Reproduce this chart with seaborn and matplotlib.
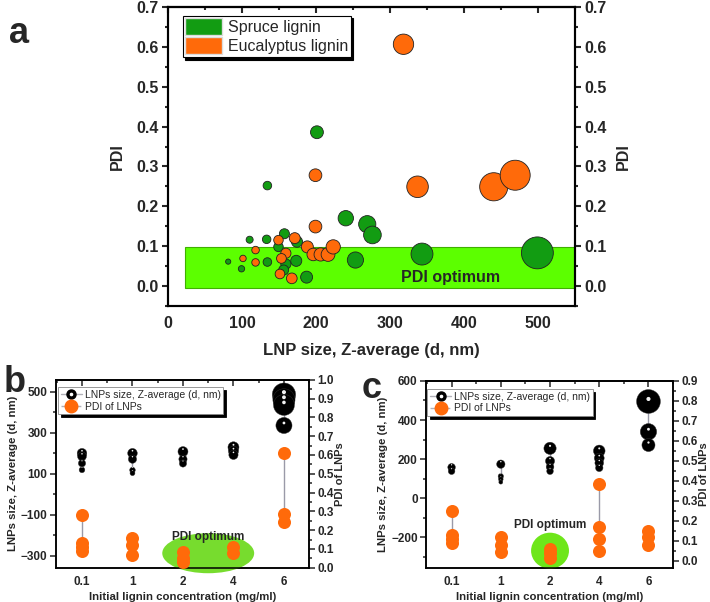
import pandas as pd
import matplotlib
matplotlib.use("Agg")
import matplotlib.pyplot as plt
import seaborn as sns
from matplotlib.patches import Rectangle, Ellipse, Patch
from matplotlib.lines import Line2D
from matplotlib.ticker import MultipleLocator, FormatStrFormatter
from matplotlib.transforms import ScaledTranslation

# -----------------------------
# Data
# -----------------------------
# panel a: LNP size (nm) vs PDI
spruce_size = [81, 99, 110, 134, 133, 134, 149, 157, 159, 156, 173, 174, 187, 201,
               240, 253, 269, 276, 343, 499]
spruce_pdi = [0.061, 0.043, 0.116, 0.252, 0.117, 0.060, 0.098, 0.131, 0.055, 0.040,
              0.063, 0.111, 0.022, 0.386, 0.170, 0.065, 0.155, 0.128, 0.080, 0.083]
euca_size = [101, 118, 118, 149, 159, 153, 151, 167, 171, 188, 199, 199, 196, 206,
             216, 223, 318, 337, 440, 469]
euca_pdi = [0.069, 0.090, 0.059, 0.115, 0.082, 0.069, 0.030, 0.019, 0.120, 0.098,
            0.278, 0.149, 0.079, 0.079, 0.079, 0.098, 0.607, 0.249, 0.249, 0.278]

# panels b, c: values per initial lignin concentration
conc_labels = ["0.1", "1", "2", "4", "6"]
b_size = [[200, 185, 151, 119], [200, 171, 118, 103], [208, 171, 150],
          [229, 210, 192], [485, 460, 435, 335]]
b_pdi = [[0.28, 0.13, 0.11, 0.09], [0.16, 0.12, 0.07], [0.085, 0.05, 0.03],
         [0.11, 0.08], [0.61, 0.285, 0.245]]
c_size = [[158, 138], [174, 112, 97, 82], [255, 190, 160, 138],
          [242, 205, 180, 155], [495, 340, 272]]
c_pdi = [[0.25, 0.13, 0.11, 0.09], [0.12, 0.08, 0.045], [0.06, 0.04, 0.015],
         [0.385, 0.17, 0.108, 0.05], [0.15, 0.12, 0.08]]

GREEN = "#129c12"
ORANGE = "#ff6a0a"
LIME = "#5cff00"

sns.set_style("white")
plt.rcParams["font.family"] = ["Liberation Sans", "DejaVu Sans"]
plt.rcParams["font.weight"] = "bold"

fig = plt.figure(figsize=(7.1, 6.02), dpi=100)


def style_axis(ax, lw, fs, pad=3):
    for sp in ax.spines.values():
        sp.set_linewidth(lw)
        sp.set_color("black")
    ax.tick_params(which="major", direction="out", length=4, width=lw, labelsize=fs, pad=pad)
    ax.tick_params(which="minor", direction="out", length=2.5, width=lw)
    for lab in ax.get_xticklabels() + ax.get_yticklabels():
        lab.set_fontweight("bold")


def top_ticks(ax, lw, major, minor):
    sec = ax.secondary_xaxis("top")
    sec.xaxis.set_major_locator(MultipleLocator(major))
    sec.xaxis.set_minor_locator(MultipleLocator(minor))
    sec.tick_params(which="major", direction="in", length=4, width=lw, labeltop=False)
    sec.tick_params(which="minor", direction="in", length=2.5, width=lw)
    sec.spines["top"].set_linewidth(lw)


# -----------------------------
# Panel a
# -----------------------------
ax = fig.add_axes([0.237, 0.492, 0.573, 0.496])
dfa = pd.concat([
    pd.DataFrame({"size": spruce_size, "pdi": spruce_pdi, "lignin": "Spruce lignin"}),
    pd.DataFrame({"size": euca_size, "pdi": euca_pdi, "lignin": "Eucalyptus lignin"}),
], ignore_index=True)
dfa["area"] = dfa["size"] ** 2
k_a = 0.00212  # marker area per nm^2
ax.add_patch(Rectangle((22, -0.005), 528, 0.103, facecolor=LIME,
                       edgecolor="#3fb000", lw=0.8, zorder=0))
sns.scatterplot(data=dfa, x="size", y="pdi", hue="lignin", size="area",
                palette={"Spruce lignin": GREEN, "Eucalyptus lignin": ORANGE},
                sizes=(0, k_a * 250000), size_norm=(0, 250000),
                edgecolor="#222222", linewidth=0.6, legend=False, ax=ax, zorder=3)
ax.text(382, 0.02, "PDI optimum", ha="center", va="center", fontsize=11.5,
        fontweight="bold")
ax.set_xlim(0, 550)
ax.set_ylim(-0.05, 0.7)
ax.xaxis.set_major_locator(MultipleLocator(100))
ax.xaxis.set_minor_locator(MultipleLocator(50))
ax.yaxis.set_major_locator(MultipleLocator(0.1))
ax.yaxis.set_minor_locator(MultipleLocator(0.05))
ax.yaxis.set_major_formatter(FormatStrFormatter("%.1f"))
ax.set_xlabel("LNP size, Z-average (d, nm)", fontsize=12, fontweight="bold", labelpad=9)
ax.set_ylabel("PDI", fontsize=11.5, fontweight="bold", labelpad=8)
style_axis(ax, 1.5, 11.5)
top_ticks(ax, 1.5, 100, 50)
axr = ax.twinx()
axr.set_ylim(-0.05, 0.7)
axr.yaxis.set_major_locator(MultipleLocator(0.1))
axr.yaxis.set_minor_locator(MultipleLocator(0.05))
axr.yaxis.set_major_formatter(FormatStrFormatter("%.1f"))
axr.set_ylabel("PDI", fontsize=11.5, fontweight="bold", labelpad=6)
style_axis(axr, 1.5, 11.5)
leg = ax.legend(handles=[Patch(facecolor=GREEN, edgecolor="#dddddd", label="Spruce lignin"),
                         Patch(facecolor=ORANGE, edgecolor="#dddddd", label="Eucalyptus lignin")],
                loc="upper left", bbox_to_anchor=(0.035, 0.972), borderaxespad=0,
                fancybox=False, edgecolor="black", framealpha=1,
                shadow={"color": "black", "alpha": 1},
                prop={"size": 11.5, "weight": "normal"},
                handlelength=2.3, handleheight=1.3, handletextpad=0.4,
                borderpad=0.15, labelspacing=0.1)
leg.get_frame().set_linewidth(0.8)
fig.text(0.012, 0.945, "a", fontsize=26, fontweight="bold", ha="left", va="center")


# -----------------------------
# Panels b and c
# -----------------------------
def to_long(groups, name):
    rows = [(i, v) for i, g in enumerate(groups) for v in g]
    return pd.DataFrame(rows, columns=["pos", name])


def lnp_panel(rect, sizes, pdis, ylim, yoff, rlim, ell, txt, leg_anchor, letter_xy, letter):
    ax = fig.add_axes(rect)
    ds = to_long(sizes, "size")
    dp = to_long(pdis, "pdi")
    ds["area"] = ds["size"] ** 2
    k = 0.0012

    # connecting lines within each concentration
    gs = ds.groupby("pos")["size"]
    ax.vlines(gs.min().index, gs.min(), gs.max(), color="#9a9aa8", lw=1, zorder=1)
    sns.scatterplot(data=ds, x="pos", y="size", size="area", sizes=(0, k * 300000),
                    size_norm=(0, 300000), color="black", edgecolor="#333333",
                    linewidth=0.3, legend=False, ax=ax, zorder=3)
    shift = ax.transData + ScaledTranslation(0, 1.8 / 72, fig.dpi_scale_trans)
    sns.scatterplot(data=ds, x="pos", y="size", size="area", sizes=(0, 0.03 * k * 300000),
                    size_norm=(0, 300000), color="white", linewidth=0, alpha=0.95,
                    legend=False, ax=ax, zorder=4, transform=shift)
    ax.set_xlim(-0.52, 4.5)
    ax.set_ylim(*ylim)
    ax.set_xticks(range(len(conc_labels)))
    ax.set_xticklabels(conc_labels)
    ax.xaxis.set_minor_locator(MultipleLocator(0.5))
    ax.yaxis.set_major_locator(MultipleLocator(200, offset=yoff))
    ax.yaxis.set_minor_locator(MultipleLocator(100))
    ax.set_xlabel("Initial lignin concentration (mg/ml)", fontsize=8.2,
                  fontweight="bold", labelpad=3)
    ax.set_ylabel("LNPs size, Z-average (d, nm)", fontsize=8.2, fontweight="bold",
                  labelpad=2)
    style_axis(ax, 1.1, 8.5, pad=2)
    top_ticks(ax, 1.1, 1, 0.5)

    axr = ax.twinx()
    axr.add_patch(Ellipse(ell[:2], ell[2], ell[3], facecolor=ell[4], edgecolor="none",
                          zorder=0, clip_on=False))
    gp = dp.groupby("pos")["pdi"]
    axr.vlines(gp.min().index, gp.min(), gp.max(), color="#9a9aa8", lw=1, zorder=1)
    sns.scatterplot(data=dp, x="pos", y="pdi", color=ORANGE, s=88, linewidth=0,
                    legend=False, ax=axr, zorder=3)
    axr.text(txt[0], txt[1], "PDI optimum", ha="center", va="center", fontsize=8.5,
             fontweight="bold", zorder=5)
    axr.set_ylim(*rlim)
    axr.yaxis.set_major_locator(MultipleLocator(0.1))
    axr.yaxis.set_minor_locator(MultipleLocator(0.05))
    axr.yaxis.set_major_formatter(FormatStrFormatter("%.1f"))
    axr.set_ylabel("PDI of LNPs", fontsize=8, fontweight="bold", labelpad=0.5)
    style_axis(axr, 1.1, 8.5, pad=2)

    sphere = (Line2D([], [], color="#b0b0b8", lw=1, marker="o", ms=6.5,
                     mfc="black", mec="black"),
              Line2D([], [], ls="none", marker="o", ms=1.6, mfc="white", mec="white"))
    dot = Line2D([], [], color="#b0b0b8", lw=1, ls="--", marker="o", ms=9,
                 mfc=ORANGE, mec=ORANGE)
    leg = axr.legend(handles=[sphere, dot],
                     labels=["LNPs size, Z-average (d, nm)", "PDI of LNPs"],
                     loc="upper left", bbox_to_anchor=leg_anchor, borderaxespad=0,
                     fancybox=False, edgecolor="#888888", framealpha=1,
                     shadow={"color": "black", "alpha": 1},
                     prop={"size": 7.5, "weight": "normal"},
                     handlelength=2.0, handletextpad=0.3, borderpad=0.25,
                     labelspacing=0.15)
    leg.get_frame().set_linewidth(0.6)
    fig.text(letter_xy[0], letter_xy[1], letter, fontsize=26, fontweight="bold",
             ha="left", va="center")


lnp_panel([0.0785, 0.057, 0.357, 0.312], b_size, b_pdi, (-357, 557), 100, (0, 1.0),
          (2.5, 0.077, 1.82, 0.213, "#77dc2e"), (2.5, 0.165), (0.01, 0.96),
          (0.005, 0.365), "b")
lnp_panel([0.600, 0.057, 0.348, 0.3105], c_size, c_pdi, (-356, 601), 0, (-0.035, 0.9),
          (2.0, 0.05, 0.77, 0.18, "#6ee61a"), (2.0, 0.18), (0.006, 0.955),
          (0.51, 0.355), "c")

fig.savefig("out.png", dpi=100)
